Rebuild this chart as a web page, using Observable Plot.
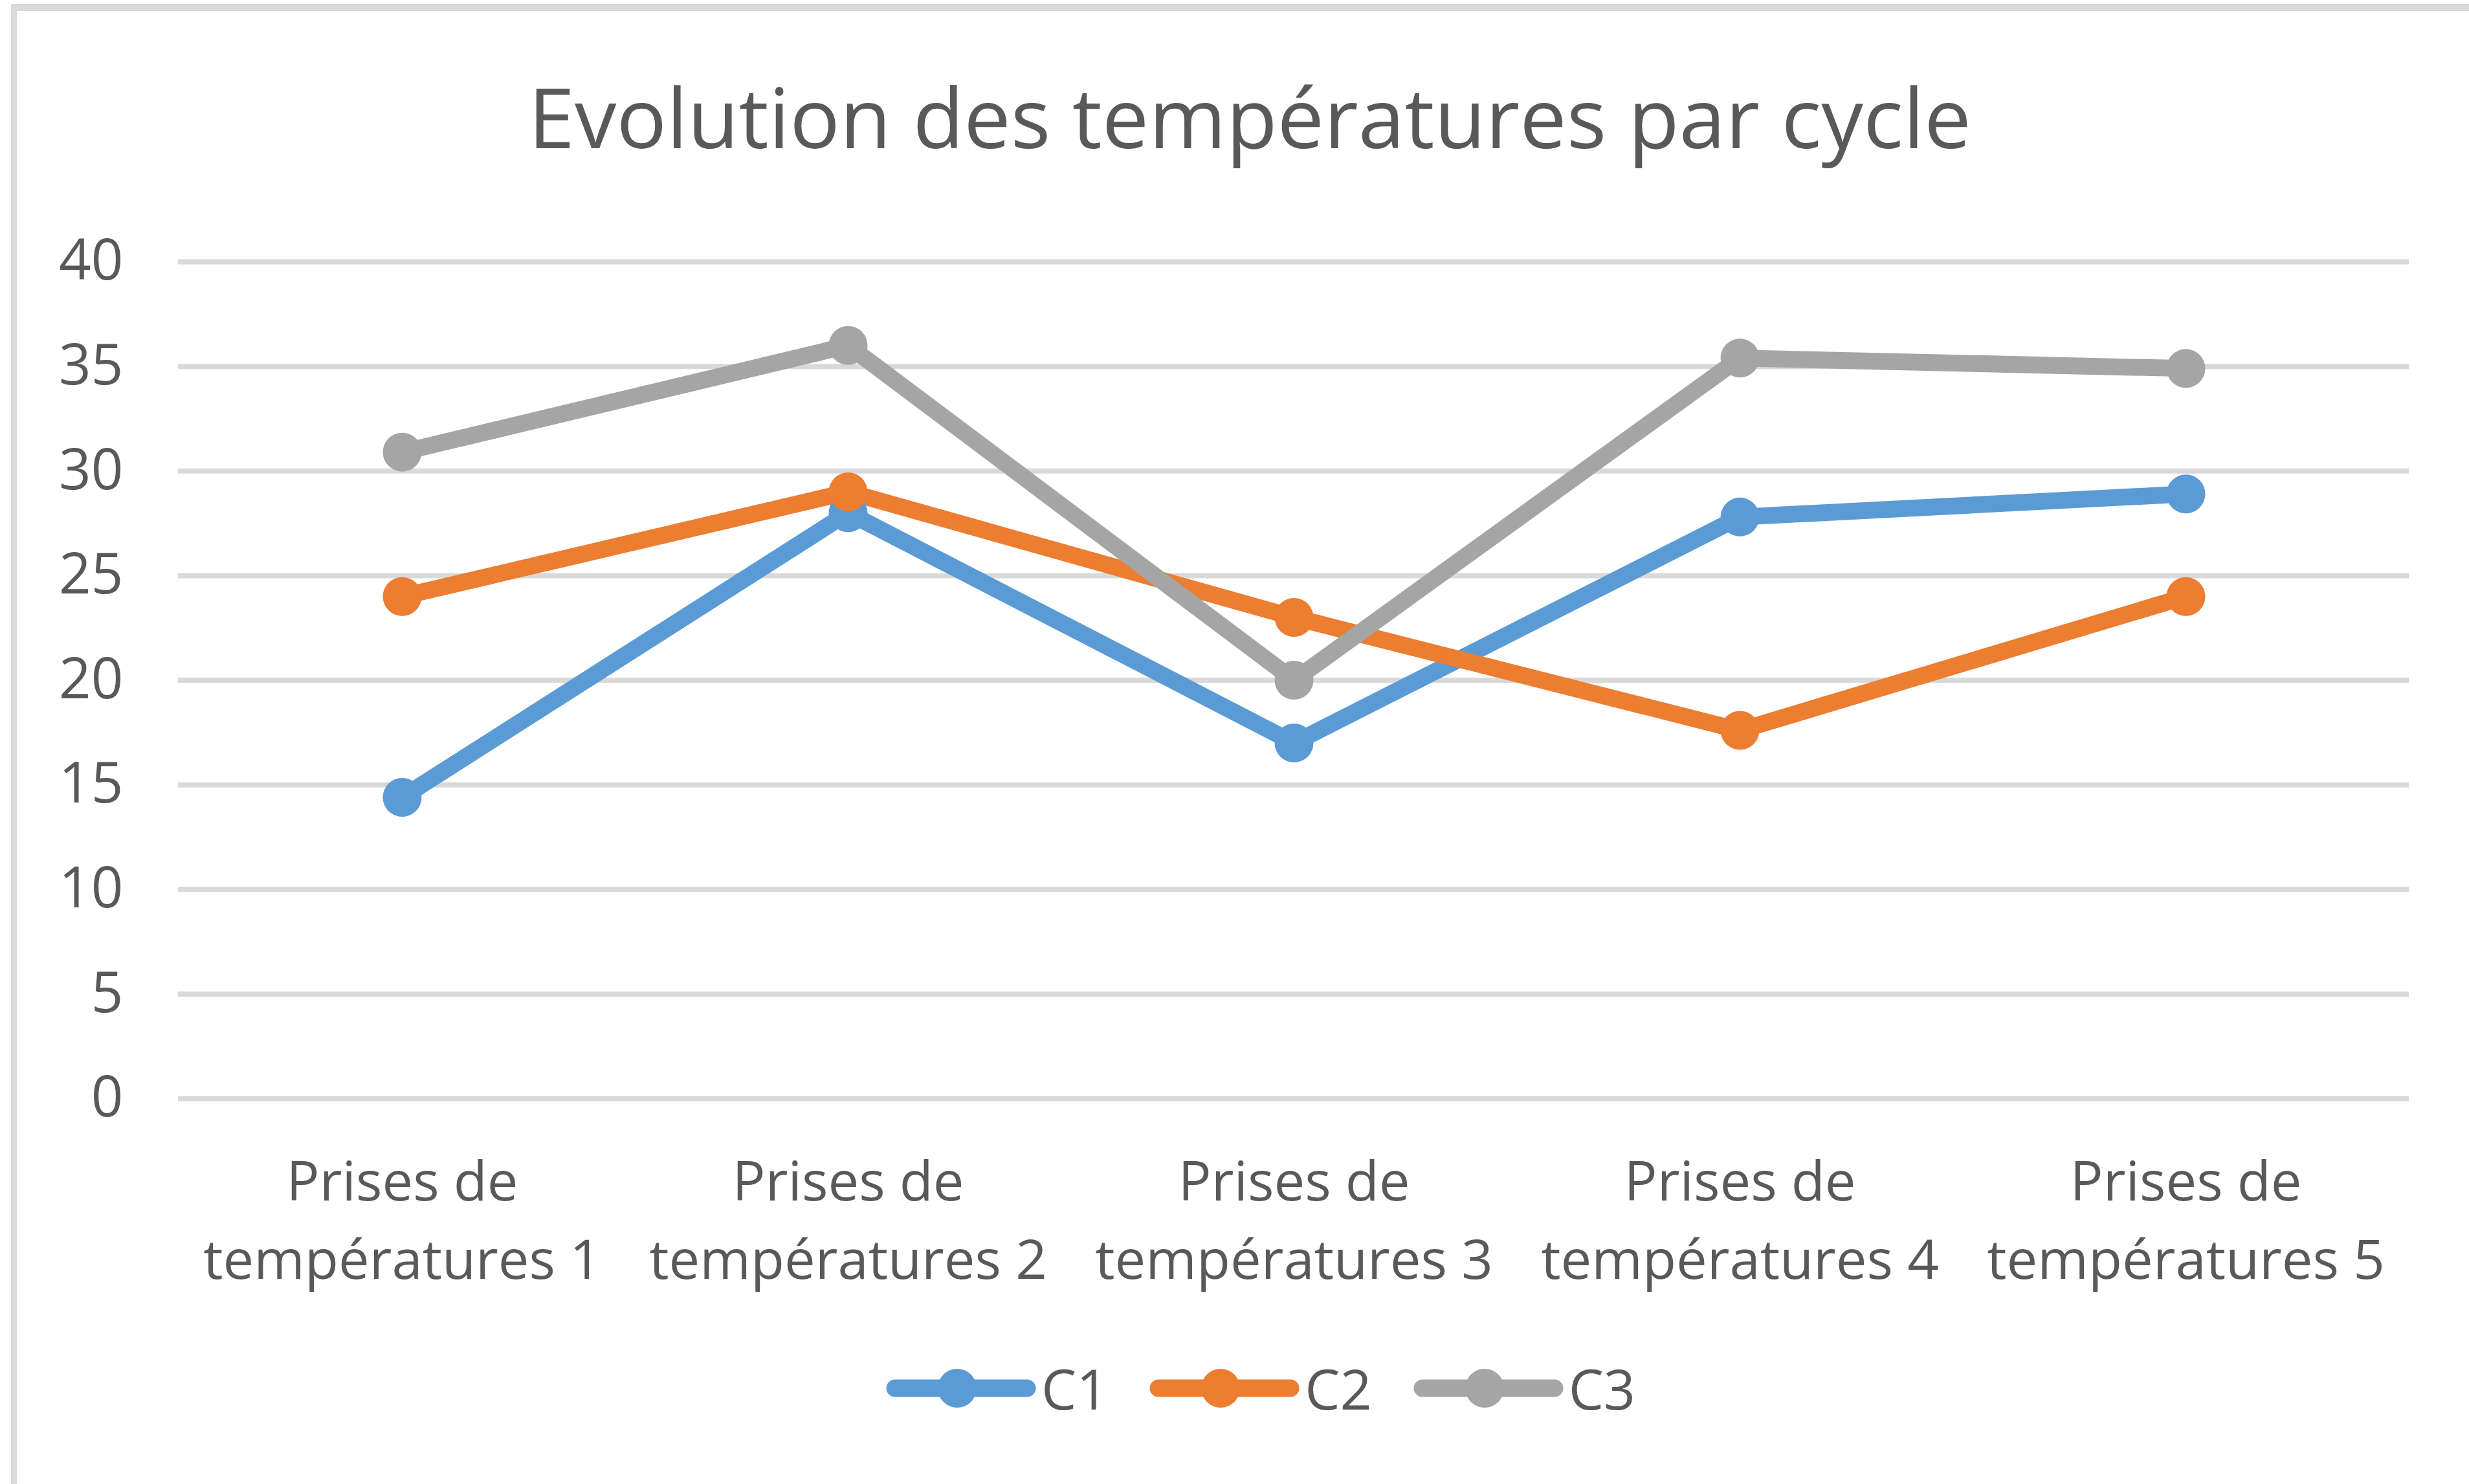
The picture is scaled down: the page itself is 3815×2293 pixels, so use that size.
<!DOCTYPE html>
<html><head><meta charset="utf-8">
<script src="https://cdn.jsdelivr.net/npm/d3@7"></script>
<script src="https://cdn.jsdelivr.net/npm/@observablehq/plot@0.6"></script>
<style>
html,body{margin:0;padding:0;background:#fff;}
#wrap{position:relative;width:3815px;height:2293px;overflow:hidden;font-family:"Open Sans",sans-serif;}
#frame{position:absolute;left:17px;top:6px;right:-20px;bottom:-20px;border-top:11px solid #d9d9d9;border-left:9px solid #dadada;}
#title{position:absolute;left:0;width:3862px;top:115px;text-align:center;font-size:129px;line-height:1;color:#595959;white-space:nowrap;}
#plot{position:absolute;left:0;top:0;}
#legend{position:absolute;left:1369px;top:2110px;display:flex;align-items:center;height:70px;}
.item{display:flex;align-items:center;margin-right:64px;}
.item span{font-size:86px;line-height:70px;color:#595959;margin-left:8px;}
</style></head>
<body>
<div id="wrap">
  <div id="frame"></div>
  <div id="plot"></div>
  <div id="title">Evolution des températures par cycle</div>
  <div id="legend"></div>
</div>
<script>
const categories = ["Prises de\ntempératures 1","Prises de\ntempératures 2","Prises de\ntempératures 3","Prises de\ntempératures 4","Prises de\ntempératures 5"];
const seriesNames = ["C1","C2","C3"];
const c1 = [14.4, 28, 17, 27.8, 28.9];
const c2 = [24, 29, 23, 17.6, 24];
const c3 = [30.9, 36, 20, 35.4, 34.9];
const colors = ["#5b9bd5","#ed7d31","#a5a5a5"];
const yTicks = [0,5,10,15,20,25,30,35,40];

const values = [c1, c2, c3];
const data = seriesNames.flatMap((s, i) => categories.map((c, j) => ({series: s, cat: c, value: values[i][j]})));

const chart = Plot.plot({
  width: 3815, height: 2293,
  marginLeft: 275, marginRight: 93, marginTop: 404, marginBottom: 596,
  x: {type: "point", domain: categories, padding: 0.5, label: null},
  y: {domain: [0, 40], label: null},
  color: {domain: seriesNames, range: colors},
  style: {fontFamily: "'Open Sans', sans-serif", color: "#595959", background: "transparent"},
  marks: [
    Plot.ruleY(yTicks, {stroke: "#d9d9d9", strokeWidth: 8}),
    Plot.axisY({ticks: yTicks, tickSize: 0, tickPadding: 85, fontSize: 87, label: null}),
    Plot.axisX({tickSize: 0, tickPadding: 72, fontSize: 85, lineHeight: 1.42, label: null}),
    Plot.line(data, {x: "cat", y: "value", z: "series", stroke: "series", strokeWidth: 26, strokeLinejoin: "round", strokeLinecap: "round"}),
    Plot.dot(data, {x: "cat", y: "value", fill: "series", r: 30})
  ]
});
document.getElementById("plot").appendChild(chart);

const legend = document.getElementById("legend");
seriesNames.forEach((s, i) => {
  const item = document.createElement("div");
  item.className = "item";
  item.innerHTML = `<svg width="232" height="70"><line x1="14" y1="35" x2="218" y2="35" stroke="${colors[i]}" stroke-width="27" stroke-linecap="round"/><circle cx="110" cy="35" r="30" fill="${colors[i]}"/></svg><span>${s}</span>`;
  legend.appendChild(item);
});
</script>
</body></html>
